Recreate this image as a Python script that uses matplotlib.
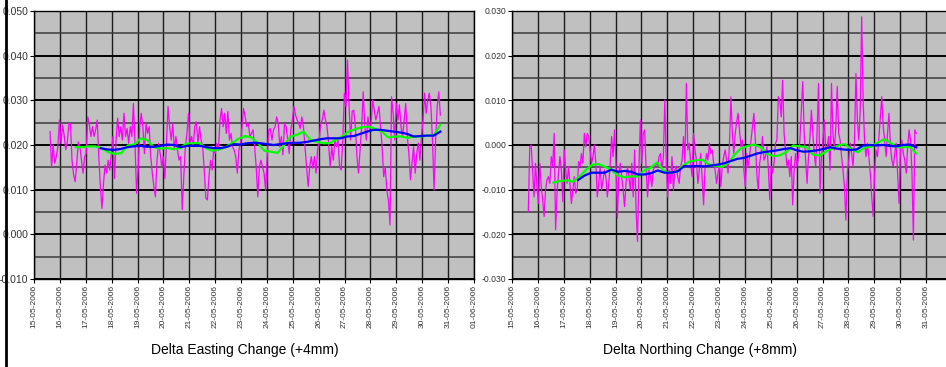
import matplotlib
matplotlib.use('Agg')
import matplotlib.pyplot as plt
import matplotlib.dates as mdates
from matplotlib.lines import Line2D
from matplotlib.ticker import MultipleLocator, FuncFormatter, FixedLocator
import pandas as pd

plt.rcParams['font.family'] = ['Liberation Sans', 'DejaVu Sans']

# ---------------- data: Delta Easting ----------------
east_raw_start, east_raw_end = '2006-05-15 14:50', '2006-05-30 16:48'
east_raw = [
    0.0230, 0.0151, 0.0200, 0.0159, 0.0174, 0.0196, 0.0256, 0.0204, 0.0245, 0.0222,
    0.0189, 0.0207, 0.0248, 0.0248, 0.0166, 0.0133, 0.0118, 0.0159, 0.0207, 0.0196,
    0.0166, 0.0137, 0.0174, 0.0181, 0.0263, 0.0245, 0.0219, 0.0241, 0.0219, 0.0234,
    0.0256, 0.0174, 0.0107, 0.0058, 0.0114, 0.0155, 0.0137, 0.0166, 0.0144, 0.0181,
    0.0219, 0.0125, 0.0211, 0.0260, 0.0219, 0.0241, 0.0211, 0.0271, 0.0219, 0.0237,
    0.0204, 0.0241, 0.0219, 0.0293, 0.0204, 0.0092, 0.0144, 0.0241, 0.0271, 0.0241,
    0.0181, 0.0248, 0.0226, 0.0241, 0.0174, 0.0137, 0.0107, 0.0084, 0.0166, 0.0204,
    0.0181, 0.0151, 0.0174, 0.0125, 0.0204, 0.0286, 0.0241, 0.0211, 0.0248, 0.0189,
    0.0219, 0.0189, 0.0166, 0.0174, 0.0055, 0.0129, 0.0196, 0.0226, 0.0271, 0.0204,
    0.0219, 0.0196, 0.0241, 0.0252, 0.0204, 0.0241, 0.0211, 0.0196, 0.0144, 0.0081,
    0.0077, 0.0129, 0.0166, 0.0144, 0.0189, 0.0181, 0.0204, 0.0189, 0.0256, 0.0282,
    0.0241, 0.0271, 0.0226, 0.0275, 0.0211, 0.0226, 0.0196, 0.0189, 0.0174, 0.0137,
    0.0189, 0.0204, 0.0241, 0.0282, 0.0263, 0.0241, 0.0248, 0.0219, 0.0226, 0.0234,
    0.0196, 0.0151,
    0.0084, 0.0151, 0.0166, 0.0151, 0.0137, 0.0099, 0.0174, 0.0234, 0.0237, 0.0211,
    0.0234, 0.0241, 0.0263, 0.0248, 0.0196, 0.0219, 0.0178, 0.0248, 0.0241, 0.0211,
    0.0181, 0.0234, 0.0256, 0.0286, 0.0267, 0.0256, 0.0248, 0.0237, 0.0263, 0.0241,
    0.0196, 0.0151, 0.0107, 0.0151, 0.0174, 0.0148, 0.0174, 0.0137, 0.0189, 0.0211,
    0.0248, 0.0256, 0.0278, 0.0256, 0.0241, 0.0204, 0.0151, 0.0196, 0.0166, 0.0211,
    0.0196, 0.0211, 0.0151, 0.0144, 0.0211, 0.0316, 0.0286, 0.0390, 0.0286, 0.0211,
    0.0275, 0.0278, 0.0241, 0.0174, 0.0137, 0.0189, 0.0241, 0.0319, 0.0241, 0.0211,
    0.0263, 0.0234, 0.0248, 0.0301, 0.0278, 0.0256, 0.0271, 0.0286, 0.0241, 0.0196,
    0.0129, 0.0151, 0.0099, 0.0077, 0.0021, 0.0308, 0.0271, 0.0211, 0.0293, 0.0256,
    0.0290, 0.0241, 0.0219, 0.0256, 0.0293, 0.0219, 0.0181, 0.0122, 0.0159, 0.0196,
    0.0137, 0.0181, 0.0204, 0.0166, 0.0219, 0.0256, 0.0316, 0.0271, 0.0301, 0.0316,
    0.0286, 0.0211, 0.0099, 0.0211, 0.0286, 0.0319, 0.0267,
]
east_day_start = '2006-05-16 14:38'
east_day = [
    0.0195, 0.0195, 0.0197, 0.0197, 0.0193, 0.0184, 0.0180, 0.0182, 0.0199, 0.0201,
    0.0215, 0.0211, 0.0195, 0.0192, 0.0193, 0.0191, 0.0193, 0.0203, 0.0204, 0.0204,
    0.0193, 0.0187, 0.0190, 0.0195, 0.0204, 0.0214, 0.0220, 0.0217, 0.0204, 0.0187,
    0.0185, 0.0182, 0.0200, 0.0219, 0.0223, 0.0230, 0.0212, 0.0207, 0.0204, 0.0204,
    0.0212, 0.0220, 0.0231, 0.0236, 0.0240, 0.0241, 0.0236, 0.0230, 0.0217, 0.0219,
    0.0219, 0.0216, 0.0219, 0.0219, 0.0221, 0.0222, 0.0245,
]
east_2day_start = '2006-05-17 13:41'
east_2day = [
    0.0193, 0.0190, 0.0189, 0.0191, 0.0195, 0.0197, 0.0198, 0.0196, 0.0196, 0.0198,
    0.0201, 0.0200, 0.0195, 0.0198, 0.0198, 0.0198, 0.0195, 0.0193, 0.0193, 0.0196,
    0.0202, 0.0201, 0.0204, 0.0205, 0.0204, 0.0202, 0.0200, 0.0202, 0.0204, 0.0205,
    0.0205, 0.0207, 0.0210, 0.0213, 0.0215, 0.0215, 0.0215, 0.0219, 0.0220, 0.0225,
    0.0230, 0.0234, 0.0234, 0.0232, 0.0230, 0.0228, 0.0225, 0.0219, 0.0220, 0.0221,
    0.0221, 0.0230,
]

# ---------------- data: Delta Northing ----------------
north_raw_start, north_raw_end = '2006-05-15 15:07', '2006-05-30 14:53'
north_raw = [
    -0.0149, -0.0004, 0.0000, -0.0056, -0.0116, -0.0041, -0.0093, -0.0131, -0.0041, -0.0093,
    -0.0123, -0.0160, -0.0101, -0.0078, -0.0071, -0.0086, -0.0026, -0.0048, 0.0026, -0.0190,
    -0.0108, -0.0063, -0.0026, -0.0056, -0.0127, -0.0011, -0.0056, -0.0086, -0.0048, -0.0086,
    -0.0131, -0.0101, -0.0071, -0.0108, -0.0101, -0.0037, -0.0048, -0.0019, -0.0041, 0.0026,
    -0.0004, 0.0026, 0.0019, -0.0011, -0.0041, -0.0026, 0.0000, -0.0041, -0.0116, -0.0086,
    -0.0048, -0.0101, -0.0078, -0.0056, -0.0071, -0.0116, -0.0086, -0.0041, 0.0019, -0.0026,
    0.0034, -0.0041, -0.0164, -0.0063, -0.0041, -0.0071, -0.0101, -0.0138, -0.0086, -0.0048,
    -0.0071, -0.0101, -0.0041, -0.0116, -0.0011, -0.0145, -0.0216, -0.0048, 0.0056, -0.0041,
    0.0026, 0.0034, -0.0056, -0.0116, -0.0056, -0.0071, -0.0093, -0.0056, -0.0048, -0.0041,
    -0.0048, -0.0026, -0.0019, -0.0056, -0.0026, 0.0101, -0.0041, -0.0116, -0.0056, -0.0086,
    -0.0026, -0.0101, -0.0056, -0.0048, -0.0071, -0.0086, -0.0048, -0.0034, 0.0019, -0.0041,
    0.0138, -0.0011, 0.0004, -0.0041, -0.0071, 0.0026, -0.0011, -0.0034, -0.0086, -0.0056,
    -0.0019, -0.0078, -0.0134, -0.0048, -0.0019, -0.0034, 0.0004, -0.0019, -0.0011, -0.0041,
    -0.0056, -0.0086, -0.0063, -0.0041, -0.0093, -0.0048, -0.0026, -0.0011, -0.0034,
    -0.0063, 0.0004, 0.0108, 0.0026, -0.0019, 0.0026, 0.0052, 0.0071, 0.0034, -0.0004,
    0.0011, -0.0056, -0.0093, -0.0019, -0.0048, -0.0026, 0.0011, 0.0041, 0.0071, 0.0011,
    -0.0063, -0.0101, -0.0041, -0.0019, 0.0019, -0.0034, -0.0026, -0.0004, -0.0048, -0.0123,
    -0.0048, -0.0063, -0.0041, 0.0004, 0.0011, 0.0108, 0.0101, 0.0063, 0.0145, 0.0026,
    -0.0011, -0.0048, -0.0034, -0.0071, -0.0026, -0.0134, -0.0056, -0.0019, -0.0048, -0.0026,
    0.0011, 0.0078, 0.0142, 0.0026, -0.0034, -0.0086, -0.0026, 0.0019, 0.0078, 0.0026,
    -0.0019, -0.0048, 0.0034, 0.0138, -0.0108, -0.0026, 0.0011, 0.0056, -0.0011, -0.0004,
    0.0019, -0.0056, 0.0138, 0.0026, -0.0011, 0.0041, 0.0131, 0.0026, 0.0011, -0.0026,
    -0.0056, -0.0093, -0.0168, -0.0063, -0.0034, 0.0004, -0.0019, -0.0048, 0.0011, 0.0160,
    0.0056, 0.0011, 0.0078, 0.0287, 0.0101, 0.0011, -0.0026, 0.0004, -0.0026, -0.0063,
    -0.0116, -0.0160, -0.0063, -0.0011, -0.0026, 0.0019, 0.0063, 0.0108, 0.0041, 0.0011,
    -0.0026, 0.0026, 0.0071, -0.0004, -0.0034, -0.0048, -0.0019, 0.0004, -0.0063, -0.0131,
    -0.0011, 0.0011, -0.0019, -0.0034, -0.0063, -0.0004, 0.0034, 0.0011, -0.0063, -0.0213,
    0.0034, 0.0026,
]
north_day_start = '2006-05-16 14:24'
north_day = [
    -0.0084, -0.0081, -0.0079, -0.0082, -0.0071, -0.0056, -0.0044, -0.0043, -0.0049, -0.0056,
    -0.0069, -0.0072, -0.0070, -0.0071, -0.0057, -0.0051, -0.0039, -0.0057, -0.0063, -0.0059,
    -0.0046, -0.0037, -0.0034, -0.0033, -0.0044, -0.0047, -0.0049, -0.0040, -0.0021, -0.0007,
    -0.0002, 0.0001, -0.0005, -0.0020, -0.0025, -0.0023, -0.0015, -0.0001, -0.0003, -0.0004,
    -0.0021, -0.0024, -0.0015, -0.0008, -0.0001, 0.0002, -0.0010, -0.0016, -0.0006, -0.0004,
    0.0005, 0.0013, 0.0005, -0.0005, -0.0005, -0.0004, -0.0019,
]
north_2day_start = '2006-05-17 13:26'
north_2day = [
    -0.0078, -0.0068, -0.0062, -0.0062, -0.0062, -0.0055, -0.0060, -0.0058, -0.0060, -0.0066,
    -0.0066, -0.0063, -0.0057, -0.0062, -0.0062, -0.0059, -0.0047, -0.0048, -0.0047, -0.0048,
    -0.0046, -0.0044, -0.0041, -0.0036, -0.0031, -0.0029, -0.0024, -0.0019, -0.0016, -0.0014,
    -0.0012, -0.0009, -0.0007, -0.0012, -0.0015, -0.0014, -0.0012, -0.0009, -0.0005, -0.0008,
    -0.0010, -0.0011, -0.0010, -0.0001, 0.0000, -0.0001, 0.0000, -0.0002, -0.0003, 0.0000,
    0.0001, -0.0005,
]

titles = ['Delta Easting Change (+4mm)', 'Delta Northing Change (+8mm)']
ylims = [(-0.010, 0.050), (-0.030, 0.030)]
x_start, x_end = '2006-05-15', '2006-06-01'
left_days = pd.date_range('2006-05-15', '2006-06-01', freq='D')
right_days = pd.date_range('2006-05-15', '2006-05-31', freq='D')

W, H = 946, 367
fig = plt.figure(figsize=(W / 100, H / 100), dpi=100)
fig.patch.set_facecolor('white')

ax_l = fig.add_axes([34 / W, (H - 279) / H, 440 / W, 268 / H])
ax_r = fig.add_axes([512 / W, (H - 279) / H, 440 / W, 268 / H])


def fmt(v, p):
    if abs(v) < 1e-9:
        v = 0.0
    return f'{v:.3f}'


def draw(ax, raw, raw_se, day, day_s, two, two_s, ylim, ylab_size, tick_days):
    t_raw = pd.date_range(raw_se[0], raw_se[1], periods=len(raw))
    t_day = pd.date_range(day_s, raw_se[1], periods=len(day))
    t_two = pd.date_range(two_s, raw_se[1], periods=len(two))
    ax.set_facecolor('#C0C0C0')
    ax.plot(t_raw, raw, color='#FF00FF', lw=0.9, zorder=3)
    ax.plot(t_day, day, color='#00FF00', lw=1.6, zorder=4)
    ax.plot(t_two, two, color='#0000FF', lw=1.6, zorder=5)
    ax.set_xlim(pd.Timestamp(x_start), pd.Timestamp(x_end))
    ax.set_ylim(*ylim)
    ax.xaxis.set_major_locator(FixedLocator(mdates.date2num(tick_days)))
    ax.xaxis.set_major_formatter(mdates.DateFormatter('%d-%m-%Y'))
    ax.yaxis.set_major_locator(MultipleLocator(0.010))
    ax.yaxis.set_minor_locator(MultipleLocator(0.005))
    ax.yaxis.set_major_formatter(FuncFormatter(fmt))
    ax.set_axisbelow(True)
    ax.grid(which='major', axis='y', color='#000000', lw=1.4)
    ax.grid(which='minor', axis='y', color='#3c3c3c', lw=1.1)
    ax.grid(which='major', axis='x', color='#1c1c1c', lw=1.0)
    ax.tick_params(axis='y', which='minor', length=0)
    ax.tick_params(axis='y', which='major', length=3, width=0.8, pad=1,
                   labelsize=ylab_size, labelcolor='#333333')
    ax.tick_params(axis='x', which='major', length=3, width=0.8, pad=1.5,
                   labelsize=6, labelcolor='#333333', labelrotation=90)
    for s in ax.spines.values():
        s.set_color('#000000')
        s.set_linewidth(1.0)


draw(ax_l, east_raw, (east_raw_start, east_raw_end), east_day, east_day_start,
     east_2day, east_2day_start, ylims[0], 7.5, left_days)
draw(ax_r, north_raw, (north_raw_start, north_raw_end), north_day, north_day_start,
     north_2day, north_2day_start, ylims[1], 6.2, right_days)

fig.text(245 / W, 1 - 350 / H, titles[0], ha='center', va='center', fontsize=10, color='#000000')
fig.text(700 / W, 1 - 350 / H, titles[1], ha='center', va='center', fontsize=10, color='#000000')

fig.add_artist(Line2D([6 / W, 6 / W], [0, 1], transform=fig.transFigure, color='black', lw=2.0))

fig.savefig('out.png', dpi=100, facecolor='white')
